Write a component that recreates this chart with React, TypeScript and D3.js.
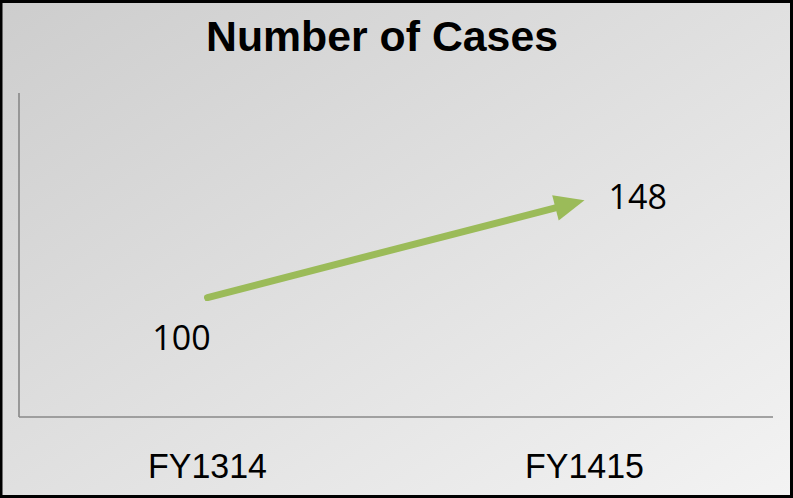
import React from "react";
import * as d3 from "d3";

const categories = ["FY1314", "FY1415"];
const values = [100, 148];
const title = "Number of Cases";

const W = 793;
const H = 498;
const plot = { left: 19, right: 773, top: 93, bottom: 417 };

export default function App() {
  const x = d3.scaleBand<string>().domain(categories).range([plot.left, plot.right]);
  const y = d3.scaleLinear().domain([41, 201]).range([plot.bottom, plot.top]);
  const cx = (c: string) => (x(c) ?? 0) + x.bandwidth() / 2;

  const pts = categories.map((c, i) => [cx(c), y(values[i])] as [number, number]);
  const [p0, p1] = pts;
  const dx = p1[0] - p0[0];
  const dy = p1[1] - p0[1];
  const len = Math.hypot(dx, dy);
  const ux = dx / len, uy = dy / len;
  const headLen = 30, headHalf = 13;
  const base: [number, number] = [p1[0] - ux * headLen, p1[1] - uy * headLen];
  const nx = -uy, ny = ux;
  const head = [
    p1,
    [base[0] + nx * headHalf, base[1] + ny * headHalf],
    [base[0] - nx * headHalf, base[1] - ny * headHalf],
  ] as [number, number][];
  const line = d3.line();

  return (
    <svg width={W} height={H} style={{ position: "absolute", left: 0, top: 0 }}>
      <defs>
        <linearGradient id="bg" x1="0" y1="0" x2="1" y2="1">
          <stop offset="0" stopColor="#cdcdcd" />
          <stop offset="1" stopColor="#f3f3f3" />
        </linearGradient>
      </defs>
      <rect x={0} y={0} width={W} height={H} fill="url(#bg)" />
      <rect x={1} y={1.5} width={W - 2.5} height={H - 3} fill="none" stroke="#000" strokeWidth={3} />
      <text x={382} y={50.5} textAnchor="middle" fontFamily="Liberation Sans, Arial, sans-serif" fontWeight="bold" fontSize={42} fill="#000" textLength={352} lengthAdjust="spacingAndGlyphs">
        {title}
      </text>
      <line x1={plot.left} y1={plot.top} x2={plot.left} y2={plot.bottom} stroke="#888" strokeWidth={1.6} />
      <line x1={plot.left} y1={plot.bottom} x2={plot.right} y2={plot.bottom} stroke="#888" strokeWidth={1.6} />
      <path d={line([p0, base]) ?? ""} stroke="#9bbb59" strokeWidth={7} strokeLinecap="round" fill="none" />
      <path d={(line(head) ?? "") + "Z"} fill="#9bbb59" />
      <text x={p0[0] - 26} y={p0[1] + 52} textAnchor="middle" fontFamily="Open Sans, sans-serif" fontSize={34} fill="#000">
        {values[0]}
      </text>
      <text x={p1[0] + 24} y={p1[1] + 9} textAnchor="start" fontFamily="Open Sans, sans-serif" fontSize={34} fill="#000">
        {values[1]}
      </text>
      {categories.map((c) => (
        <text key={c} x={cx(c)} y={478} textAnchor="middle" fontFamily="Liberation Sans, Arial, sans-serif" fontSize={35} fill="#000" textLength={119} lengthAdjust="spacingAndGlyphs">
          {c}
        </text>
      ))}
    </svg>
  );
}
